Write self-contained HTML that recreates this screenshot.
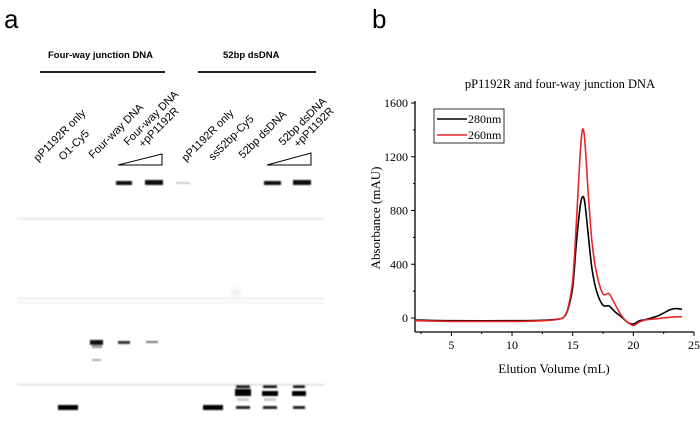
<!DOCTYPE html>
<html><head><meta charset="utf-8"><style>
body{margin:0;background:#fff;width:700px;height:437px;overflow:hidden;font-family:"Liberation Sans",sans-serif}
svg{position:absolute;left:0;top:0}
</style></head><body>
<svg width="700" height="437" viewBox="0 0 700 437">
<defs><filter id="bl" x="-50%" y="-50%" width="200%" height="200%"><feGaussianBlur stdDeviation="0.9"/></filter>
<filter id="bl2" x="-50%" y="-50%" width="200%" height="200%"><feGaussianBlur stdDeviation="2"/></filter></defs>
<g>
<text x="4" y="28" font-size="26" font-family="Liberation Sans">a</text>
<text x="48" y="58" font-size="9.5" font-weight="bold">Four-way junction DNA</text>
<text x="223" y="58" font-size="9.5" font-weight="bold">52bp dsDNA</text>
<line x1="40" y1="72" x2="165" y2="72" stroke="#000" stroke-width="1.8"/>
<line x1="198" y1="72" x2="316" y2="72" stroke="#000" stroke-width="1.8"/>
<g font-size="11">
<text transform="translate(38,162) rotate(-45)">pP1192R only</text>
<text transform="translate(63,161) rotate(-45)">O1-Cy5</text>
<text transform="translate(93,159) rotate(-45)">Four-way DNA</text>
<text transform="translate(128,146) rotate(-45)">Four-way DNA</text>
<text transform="translate(143,148) rotate(-45)">+pP1192R</text>
<text transform="translate(186,162) rotate(-45)">pP1192R only</text>
<text transform="translate(213,161) rotate(-45)">ss52bp-Cy5</text>
<text transform="translate(243,159) rotate(-45)">52bp dsDNA</text>
<text transform="translate(283,146) rotate(-45)">52bp dsDNA</text>
<text transform="translate(298,148) rotate(-45)">+pP1192R</text>
</g>
<polygon points="118,165 162,154 162,165" fill="none" stroke="#000" stroke-width="1"/>
<polygon points="267,165 311,153 311,165" fill="none" stroke="#000" stroke-width="1"/>
<g filter="url(#bl)">
<rect x="17" y="218" width="307" height="1.5" fill="#e2e2e2"/>
<rect x="17" y="298" width="307" height="1.2" fill="#e2e2e2"/>
<rect x="17" y="302" width="307" height="1" fill="#ececec"/>
<rect x="17" y="384" width="307" height="1.5" fill="#dcdcdc"/>
<rect x="116" y="181" width="16" height="4" fill="#111"/>
<rect x="145" y="180" width="18" height="5" fill="#111"/>
<rect x="176" y="182" width="14" height="2" fill="#ccc"/>
<rect x="264" y="181" width="17" height="4" fill="#111"/>
<rect x="293" y="180" width="18" height="5" fill="#111"/>
<rect x="90" y="340" width="13" height="5" fill="#111"/>
<rect x="92" y="345" width="10" height="3" fill="#999"/>
<rect x="92" y="359" width="9" height="2" fill="#aaa"/>
<rect x="118" y="341" width="12" height="3" fill="#333"/>
<rect x="146" y="341" width="12" height="2" fill="#777"/>
<rect x="58" y="405" width="20" height="5" fill="#000"/>
<rect x="203" y="405" width="20" height="5" fill="#000"/>
<rect x="236" y="406" width="14" height="3" fill="#222"/>
<rect x="263" y="406" width="14" height="3" fill="#222"/>
<rect x="293" y="406" width="12" height="3" fill="#222"/>
<rect x="236" y="385" width="14" height="3" fill="#111"/>
<rect x="235" y="389" width="16" height="7" fill="#000"/>
<rect x="263" y="385" width="14" height="3" fill="#111"/>
<rect x="262" y="391" width="16" height="5" fill="#000"/>
<rect x="293" y="385" width="12" height="3" fill="#111"/>
<rect x="292" y="391" width="14" height="5" fill="#000"/>
<rect x="237" y="398" width="12" height="3" fill="#ccc"/>
<rect x="264" y="398" width="12" height="3" fill="#ccc"/>
</g>
<circle cx="236" cy="293" r="5" fill="#eee" filter="url(#bl2)"/>
</g>
<text x="372" y="28" font-size="26">b</text>
<g id="chart" font-family="Liberation Serif, serif"></g>
</svg>
<script>
const volumes=[2,5,10,13,14,14.3,14.6,15,15.3,15.6,15.8,16,16.3,16.6,17,17.5,18,18.5,19,19.5,20,20.5,21,22,23,23.5,24];
const abs280=[-15,-20,-20,-15,-5,10,60,230,550,820,900,860,600,360,190,95,90,45,10,-30,-45,-20,-12,15,60,70,65];
const abs260=[-20,-25,-25,-18,-5,12,70,280,700,1200,1400,1320,900,560,320,180,180,100,20,-30,-55,-30,-15,-5,5,8,10];
const xTicks=[5,10,15,20,25];
const yTicks=[0,400,800,1200,1600];
const NS='http://www.w3.org/2000/svg';
const g=document.getElementById('chart');
const X0=415,X1=694,Y0=332,YT=103;
const sx=v=>X0+(v-2)*(X1-X0)/23;
const sy=v=>318-v*(318-YT)/1600;
function mk(t,a,txt){const e=document.createElementNS(NS,t);for(const k in a)e.setAttribute(k,a[k]);if(txt!=null)e.textContent=txt;g.appendChild(e);return e;}
let e;
e=mk('line',{x1:X0,y1:Y0,x2:X1,y2:Y0,stroke:'#000','stroke-width':1.3});


e=mk('line',{x1:X0,y1:YT-2,x2:X0,y2:Y0,stroke:'#000','stroke-width':1.3});


xTicks.forEach(t=>{mk('line',{x1:sx(t),y1:Y0,x2:sx(t),y2:Y0+4,stroke:'#000'});
e=mk('text',{x:sx(t),y:Y0+17,'font-size':12,'text-anchor':'middle'},t);


mk('line',{x1:sx(t-2.5),y1:Y0,x2:sx(t-2.5),y2:Y0+2,stroke:'#000'});});
yTicks.forEach(t=>{mk('line',{x1:X0-4,y1:sy(t),x2:X0,y2:sy(t),stroke:'#000'});
e=mk('text',{x:X0-7,y:sy(t)+4,'font-size':12,'text-anchor':'end'},t);


if(t<1600)mk('line',{x1:X0-2,y1:sy(t+200),x2:X0,y2:sy(t+200),stroke:'#000'});});
e=mk('text',{x:560,y:88,'font-size':12.5,'text-anchor':'middle'},'pP1192R and four-way junction DNA');


e=mk('text',{x:554,y:373,'font-size':13,'text-anchor':'middle'},'Elution Volume (mL)');


e=mk('text',{transform:'translate(380,218) rotate(-90)','font-size':13,'text-anchor':'middle'},'Absorbance (mAU)');


function line(arr,col,name){
const P=volumes.map((v,i)=>[sx(v),sy(arr[i])]);
let d='M'+P[0][0].toFixed(1)+','+P[0][1].toFixed(1);
for(let i=0;i<P.length-1;i++){const p0=P[Math.max(0,i-1)],p1=P[i],p2=P[i+1],p3=P[Math.min(P.length-1,i+2)];
const c1=[p1[0]+(p2[0]-p0[0])/6,p1[1]+(p2[1]-p0[1])/6],c2=[p2[0]-(p3[0]-p1[0])/6,p2[1]-(p3[1]-p1[1])/6];
d+=' C'+c1.map(n=>n.toFixed(1)).join(',')+' '+c2.map(n=>n.toFixed(1)).join(',')+' '+p2.map(n=>n.toFixed(1)).join(',');}
const el=mk('path',{d:d,fill:'none',stroke:col,'stroke-width':1.6,'stroke-linejoin':'round'});

}
line(abs280,'#000','series-280nm');
line(abs260,'#e8262a','series-260nm');
e=mk('rect',{x:434,y:109,width:70,height:34,fill:'#fff',stroke:'#000','stroke-width':0.8});


mk('line',{x1:437,y1:119,x2:467,y2:119,stroke:'#000','stroke-width':1.6});
e=mk('text',{x:468,y:123,'font-size':12},'280nm');


mk('line',{x1:437,y1:135,x2:467,y2:135,stroke:'#e8262a','stroke-width':1.6});
e=mk('text',{x:468,y:139,'font-size':12},'260nm');


</script>
</body></html>
